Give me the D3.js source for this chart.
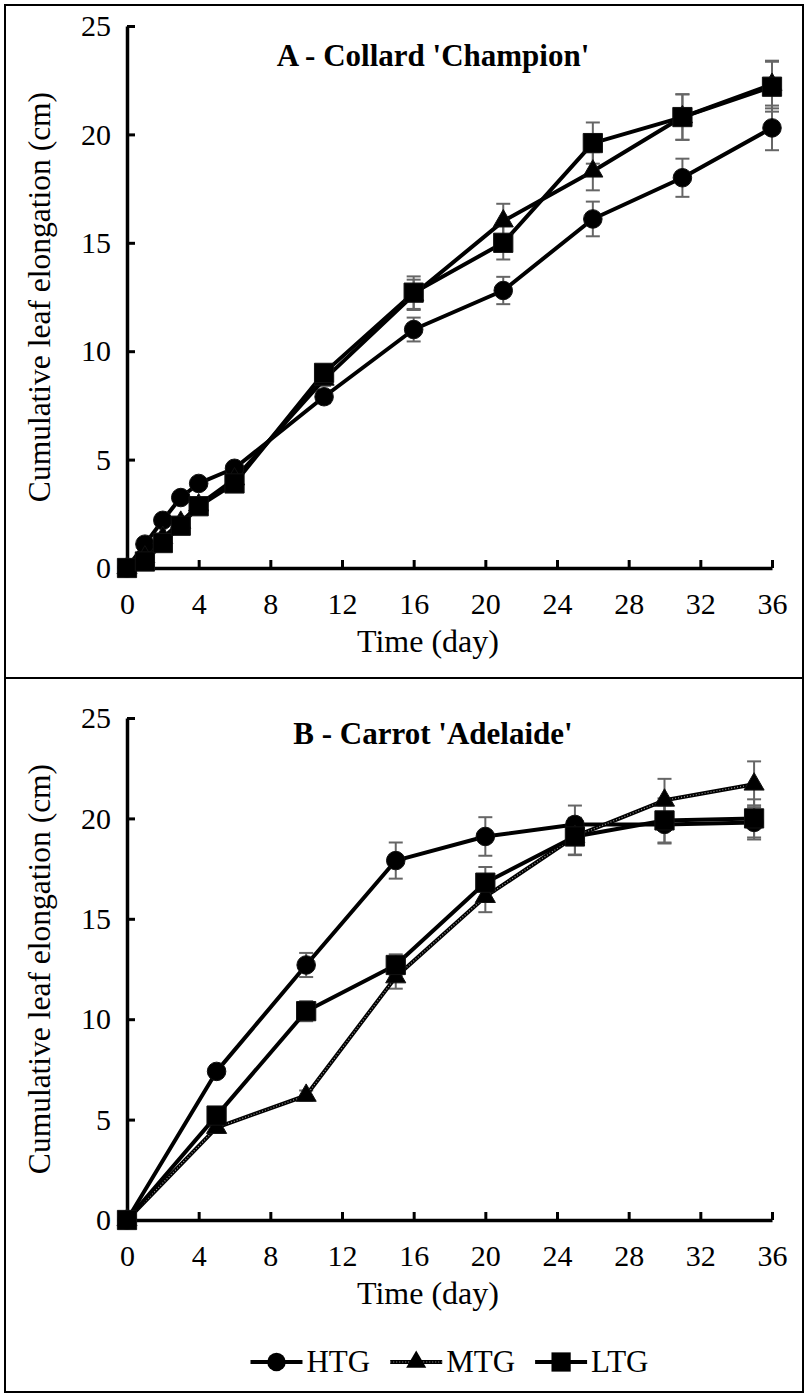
<!DOCTYPE html>
<html>
<head>
<meta charset="utf-8">
<script src="https://cdn.jsdelivr.net/npm/d3@7"></script>
<style>
  body { margin: 0; background: #fff; }
  svg text { font-family: "Liberation Serif", "Times New Roman", serif; fill: #000; }
</style>
</head>
<body>
<svg id="myGraph" width="807" height="1396"></svg>
<script>
// panel A - Collard
var daysA = [0, 1, 2, 3, 4, 6, 11, 16, 21, 26, 31, 36];
var htgA = [0, 1.1, 2.2, 3.25, 3.9, 4.6, 7.9, 11.0, 12.8, 16.1, 18.0, 20.3];
var mtgA = [0, 0.5, 1.4, 2.1, 2.9, 4.1, 8.7, 12.6, 16.0, 18.3, 20.8, 22.3];
var ltgA = [0, 0.3, 1.15, 1.95, 2.85, 3.9, 9.0, 12.7, 15.0, 19.6, 20.8, 22.2];
var htgErrA = [0, 0.2, 0.2, 0.2, 0.2, 0.2, 0.3, 0.55, 0.63, 0.8, 0.88, 1.03];
var mtgErrA = [0, 0.2, 0.2, 0.2, 0.2, 0.2, 0.3, 0.7, 0.8, 0.88, 1.05, 1.1];
var ltgErrA = [0, 0.2, 0.2, 0.2, 0.2, 0.3, 0.3, 0.75, 0.77, 0.95, 1.05, 1.15];

// panel B - Carrot
var daysB = [0, 5, 10, 15, 20, 25, 30, 35];
var htgB = [0, 7.4, 12.7, 17.9, 19.1, 19.7, 19.7, 19.8];
var mtgB = [0, 4.6, 6.2, 12.1, 16.1, 19.1, 20.9, 21.7];
var ltgB = [0, 5.2, 10.4, 12.7, 16.8, 19.1, 19.9, 20.0];
var htgErrB = [0, 0.2, 0.6, 0.9, 0.96, 0.94, 0.95, 0.85];
var mtgErrB = [0, 0.15, 0.25, 0.58, 0.77, 0.9, 1.07, 1.14];
var ltgErrB = [0, 0.2, 0.5, 0.53, 0.78, 0.93, 1.1, 0.95];

var seriesNames = ["HTG", "MTG", "LTG"];
var xTicks = [0, 4, 8, 12, 16, 20, 24, 28, 32, 36];
var yTicks = [0, 5, 10, 15, 20, 25];
var titles = ["A - Collard 'Champion'", "B - Carrot 'Adelaide'"];
var xTitle = "Time (day)";
var yTitle = "Cumulative leaf elongation (cm)";

var svg = d3.select("#myGraph");

// outer frame and divider
svg.append("rect").attr("x", 5).attr("y", 5).attr("width", 798).attr("height", 1387)
    .attr("fill", "none").attr("stroke", "#000").attr("stroke-width", 2);
svg.append("line").attr("x1", 5).attr("x2", 803).attr("y1", 678).attr("y2", 678)
    .attr("stroke", "#000").attr("stroke-width", 2);

var symbols = {
    HTG: d3.symbol().type(d3.symbolCircle).size(270),
    MTG: d3.symbol().type(d3.symbolTriangle).size(175),
    LTG: d3.symbol().type(d3.symbolSquare).size(370)
};

var x = d3.scaleLinear().domain([0, 36]).range([127, 772]);

function drawPanel(p) {
    var y = d3.scaleLinear().domain([0, 25]).range([p.y0, p.y1]);
    var g = svg.append("g");

    // axes
    var xa = g.append("g").attr("transform", "translate(0," + p.y0 + ")")
        .call(d3.axisBottom(x).tickValues(xTicks).tickSizeInner(-8).tickSizeOuter(0).tickPadding(25));
    var ya = g.append("g").attr("transform", "translate(" + x(0) + ",0)")
        .call(d3.axisLeft(y).tickValues(yTicks).tickSizeInner(-8).tickSizeOuter(0).tickPadding(16));
    [xa, ya].forEach(function(a) {
        a.select(".domain").attr("stroke", "#000").attr("stroke-width", 3.5);
        a.selectAll(".tick line").attr("stroke", "#000").attr("stroke-width", 3);
        a.selectAll(".tick text").attr("font-size", 30).attr("font-family", null);
    });

    // titles
    g.append("text").attr("x", 433).attr("y", p.titleY).attr("text-anchor", "middle")
        .attr("font-size", 31).attr("font-weight", "bold").text(p.title);
    g.append("text").attr("x", 428).attr("y", p.y0 + 84).attr("text-anchor", "middle")
        .attr("font-size", 32).text(xTitle);
    g.append("text").attr("transform", "translate(50," + (p.y0 + p.y1) / 2 + ") rotate(-90)")
        .attr("text-anchor", "middle").attr("font-size", 31.5).text(yTitle);

    var line = d3.line().x(function(d) { return x(d.x); }).y(function(d) { return y(d.v); });

    // error bars
    p.series.forEach(function(s) {
        var eb = g.append("g").attr("stroke", "#666").attr("stroke-width", 2);
        s.pts.forEach(function(d) {
            if (!d.e) return;
            eb.append("line").attr("x1", x(d.x)).attr("x2", x(d.x))
                .attr("y1", y(d.v - d.e)).attr("y2", y(d.v + d.e));
            [d.v - d.e, d.v + d.e].forEach(function(v) {
                eb.append("line").attr("x1", x(d.x) - 7).attr("x2", x(d.x) + 7)
                    .attr("y1", y(v)).attr("y2", y(v));
            });
        });
    });

    // lines
    p.series.forEach(function(s) {
        g.append("path").datum(s.pts).attr("d", line).attr("fill", "none")
            .attr("stroke", "#000").attr("stroke-width", 4).attr("stroke-linejoin", "round");
        if (s.dotted) {
            g.append("path").datum(s.pts).attr("d", line).attr("fill", "none")
                .attr("stroke", "#9a9a9a").attr("stroke-width", 1.2).attr("stroke-dasharray", "1,2");
        }
    });

    // markers
    p.series.forEach(function(s) {
        g.selectAll(null).data(s.pts).enter().append("path")
            .attr("d", symbols[s.name]())
            .attr("transform", function(d) {
                return "translate(" + x(d.x) + "," + y(d.v) + ")";
            })
            .attr("fill", "#000").attr("stroke", "#111").attr("stroke-width", 1);
    });
}

function makeSeries(days, vals, errs, name, dotted) {
    return {
        name: name, dotted: dotted,
        pts: days.map(function(d, i) { return { x: d, v: vals[i], e: errs[i] }; })
    };
}

drawPanel({
    title: titles[0], titleY: 66, y0: 568, y1: 26,
    series: [makeSeries(daysA, htgA, htgErrA, "HTG", false),
             makeSeries(daysA, mtgA, mtgErrA, "MTG", false),
             makeSeries(daysA, ltgA, ltgErrA, "LTG", false)]
});
drawPanel({
    title: titles[1], titleY: 744, y0: 1220, y1: 718,
    series: [makeSeries(daysB, htgB, htgErrB, "HTG", false),
             makeSeries(daysB, mtgB, mtgErrB, "MTG", true),
             makeSeries(daysB, ltgB, ltgErrB, "LTG", false)]
});

// legend
var leg = svg.append("g");
var cx = 0;
seriesNames.forEach(function(n) {
    var it = leg.append("g").attr("transform", "translate(" + cx + ",0)");
    it.append("line").attr("x1", 0).attr("x2", 52).attr("stroke", "#000").attr("stroke-width", 4);
    if (n === "MTG") {
        it.append("line").attr("x1", 0).attr("x2", 52).attr("stroke", "#9a9a9a")
            .attr("stroke-width", 1.2).attr("stroke-dasharray", "1,2");
    }
    it.append("path").attr("d", symbols[n]()).attr("transform", "translate(26,0)").attr("fill", "#000");
    var t = it.append("text").attr("x", 56).attr("y", 10).attr("font-size", 31).text(n);
    cx += 56 + t.node().getComputedTextLength() + 20;
});
cx -= 20;
leg.attr("transform", "translate(" + (449.5 - cx / 2) + ",1362)");
</script>
</body>
</html>
